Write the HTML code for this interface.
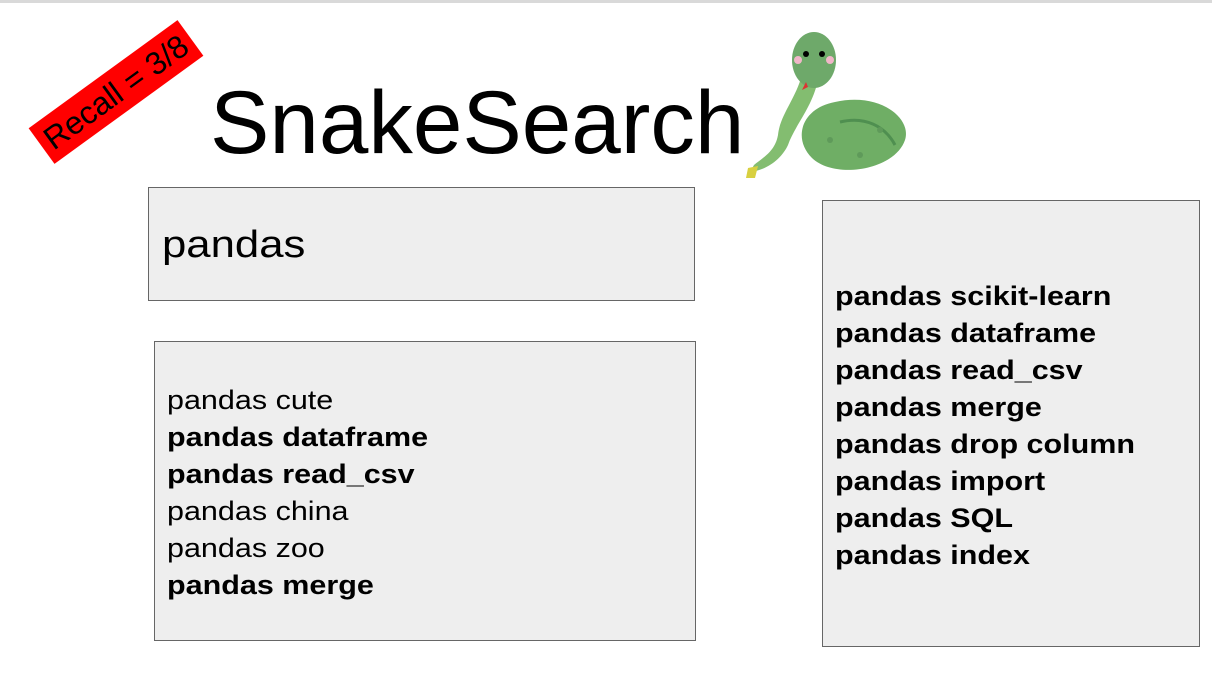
<!DOCTYPE html>
<html><head><meta charset="utf-8"><style>
body{margin:0;width:1212px;height:676px;background:#fff;position:relative;overflow:hidden;font-family:"Liberation Sans",Arial,sans-serif}
.top{position:absolute;left:0;top:0;width:1212px;height:3px;background:#d9d9d9}
.box{position:absolute;background:#eeeeee;border:1px solid #666;box-sizing:border-box}
.list{position:absolute;font-size:27px;line-height:37px;color:#000;transform:scaleX(1.13);transform-origin:0 0;white-space:nowrap}
.b{font-weight:bold}
</style></head><body>
<div class="top"></div>
<div style="position:absolute;left:24px;top:70px;width:184px;height:44px;background:#ff0000;transform:rotate(-36deg);color:#000;text-align:center;font-size:32px;line-height:44px;white-space:nowrap">Recall = 3/8</div>
<div style="position:absolute;left:210px;top:72px;font-size:89px;line-height:100px;color:#000">SnakeSearch</div>
<svg style="position:absolute;left:740px;top:30px" width="175" height="150" viewBox="0 0 175 150">
<path d="M95 72 C140 62 172 88 165 110 C155 140 95 150 72 128 C52 108 62 78 95 72 Z" fill="#6fae65"/>
<path d="M62 45 C55 70 40 85 38 105 C35 122 22 128 14 135 L10 142 C28 140 42 128 48 115 C55 95 72 78 78 50 Z" fill="#83bd70"/>
<ellipse cx="74" cy="30" rx="22" ry="28" fill="#6ea96a"/>
<circle cx="66" cy="24" r="3" fill="#000"/><circle cx="82" cy="24" r="3" fill="#000"/>
<circle cx="58" cy="30" r="4" fill="#f1b6c8"/><circle cx="90" cy="30" r="4" fill="#f1b6c8"/>
<path d="M66 52 L62 60 L68 57 Z" fill="#d33"/>
<path d="M8 138 L18 136 L15 148 L6 148 Z" fill="#d8d040"/>
<path d="M100 92 C125 86 145 96 155 115" stroke="#4f8f50" stroke-width="3" fill="none"/>
<circle cx="90" cy="110" r="3" fill="#5f9a5a"/><circle cx="120" cy="125" r="3" fill="#5f9a5a"/><circle cx="140" cy="100" r="3" fill="#5f9a5a"/>
</svg>
<div class="box" style="left:148px;top:187px;width:547px;height:114px">
<div style="position:absolute;left:13px;top:37px;font-size:38px;line-height:40px;transform:scaleX(1.15);transform-origin:0 0">pandas</div></div>
<div class="box" style="left:154px;top:341px;width:542px;height:300px">
<div class="list" style="left:12px;top:40px">
<div>pandas cute</div>
<div class="b">pandas dataframe</div>
<div class="b">pandas read_csv</div>
<div>pandas china</div>
<div>pandas zoo</div>
<div class="b">pandas merge</div>
</div></div>
<div class="box" style="left:822px;top:200px;width:378px;height:447px">
<div class="list b" style="left:12px;top:77px">
<div>pandas scikit-learn</div>
<div>pandas dataframe</div>
<div>pandas read_csv</div>
<div>pandas merge</div>
<div>pandas drop column</div>
<div>pandas import</div>
<div>pandas SQL</div>
<div>pandas index</div>
</div></div>
</body></html>
